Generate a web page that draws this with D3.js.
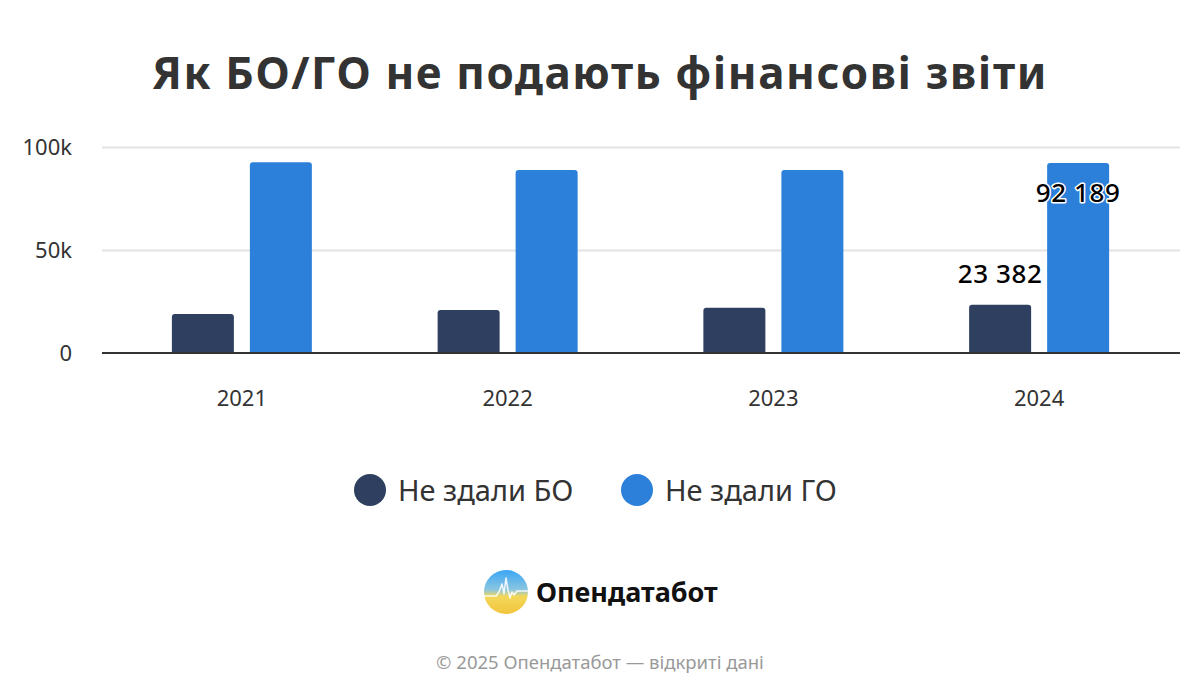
<!DOCTYPE html>
<html>
<head>
<meta charset="utf-8">
<script src="https://cdn.jsdelivr.net/npm/d3@7"></script>
<style>
  html, body { margin: 0; padding: 0; background: #fff; }
  svg { display: block; font-family: "Noto Sans", "Open Sans", sans-serif; }
</style>
</head>
<body>
<svg id="chart" width="1200" height="700"></svg>
<script>
// ---- data ----
const years = ["2021", "2022", "2023", "2024"];
const seriesNames = ["Не здали БО", "Не здали ГО"];
const seriesColors = ["#2e3f5f", "#2c80da"];
const notFiledBO = [18900, 20900, 22000, 23382];
const notFiledGO = [92600, 88800, 88800, 92189];
const yTicks = [0, 50000, 100000];
const yTickLabels = ["0", "50k", "100k"];
const labelledYear = "2024";
const titleText = "Як БО/ГО не подають фінансові звіти";
const brandText = "Опендатабот";
const footerText = "© 2025 Опендатабот — відкриті дані";

const svg = d3.select("#chart");

// title
svg.append("text")
  .attr("x", 600).attr("y", 89)
  .attr("text-anchor", "middle")
  .attr("font-size", 44).attr("font-weight", 700)
  .attr("letter-spacing", 1.6)
  .attr("fill", "#333")
  .text(titleText);

// scales
const y = d3.scaleLinear().domain([0, 100000]).range([353, 147]);
const x0 = d3.scaleBand().domain(years).range([109, 1172]).padding(0);
const groupW = 140;
const x1 = d3.scaleBand().domain(seriesNames).range([0, groupW]).paddingInner(16 / 78).paddingOuter(0);

// gridlines
svg.append("g").selectAll("line").data(yTicks.filter(t => t > 0)).join("line")
  .attr("x1", 102).attr("x2", 1180)
  .attr("y1", d => Math.round(y(d)) + 0.5).attr("y2", d => Math.round(y(d)) + 0.5)
  .attr("stroke", "#e3e3e3").attr("stroke-width", 2);

// y labels
svg.append("g").selectAll("text").data(yTicks).join("text")
  .attr("x", 72).attr("y", d => y(d))
  .attr("dy", "0.35em")
  .attr("text-anchor", "end")
  .attr("font-size", 22).attr("fill", "#333")
  .text((d, i) => yTickLabels[i]);

// data rows
const rows = [];
years.forEach((yr, i) => {
  rows.push({ year: yr, series: seriesNames[0], value: notFiledBO[i], color: seriesColors[0] });
  rows.push({ year: yr, series: seriesNames[1], value: notFiledGO[i], color: seriesColors[1] });
});

function barX(d) {
  return x0(d.year) + (x0.bandwidth() - groupW) / 2 + x1(d.series);
}
function roundedTop(x, yTop, w, yBot, r) {
  return `M${x},${yBot} L${x},${yTop + r} Q${x},${yTop} ${x + r},${yTop} L${x + w - r},${yTop} Q${x + w},${yTop} ${x + w},${yTop + r} L${x + w},${yBot} Z`;
}

svg.append("g").selectAll("path").data(rows).join("path")
  .attr("d", d => roundedTop(barX(d), y(d.value), x1.bandwidth(), y(0), 3))
  .attr("fill", d => d.color);

// baseline
svg.append("line")
  .attr("x1", 102).attr("x2", 1180)
  .attr("y1", y(0)).attr("y2", y(0))
  .attr("stroke", "#333").attr("stroke-width", 2);

// x labels
svg.append("g").selectAll("text").data(years).join("text")
  .attr("x", d => x0(d) + x0.bandwidth() / 2)
  .attr("y", 406)
  .attr("text-anchor", "middle")
  .attr("font-size", 22).attr("fill", "#333")
  .text(d => d);

// data labels for last year
const fmt = v => d3.format(",")(v).replace(/,/g, " ");
const labelRows = rows.filter(r => r.year === labelledYear);
svg.append("g").selectAll("text").data(labelRows).join("text")
  .attr("x", d => barX(d) + x1.bandwidth() / 2)
  .attr("y", d => {
    const top = y(d.value);
    return top - 22 < 190 ? top + 39 : top - 22;
  })
  .attr("text-anchor", "middle")
  .attr("font-size", 26).attr("font-weight", 500)
  .attr("letter-spacing", 0.6)
  .attr("fill", "#000")
  .attr("stroke", "#fff").attr("stroke-width", 3)
  .attr("paint-order", "stroke")
  .attr("stroke-linejoin", "round")
  .text(d => fmt(d.value));

// legend
const legend = svg.append("g");
const legendItems = [
  { name: seriesNames[0], color: seriesColors[0], cx: 370 },
  { name: seriesNames[1], color: seriesColors[1], cx: 637 }
];
legend.selectAll("circle").data(legendItems).join("circle")
  .attr("cx", d => d.cx).attr("cy", 490).attr("r", 16)
  .attr("fill", d => d.color);
legend.selectAll("text").data(legendItems).join("text")
  .attr("x", d => d.cx + 28).attr("y", 491)
  .attr("dy", "0.35em")
  .attr("font-size", 29).attr("fill", "#333")
  .text(d => d.name);

// brand logo
const defs = svg.append("defs");
const grad = defs.append("linearGradient").attr("id", "logoGrad")
  .attr("x1", 0).attr("y1", 0).attr("x2", 0).attr("y2", 1);
grad.append("stop").attr("offset", "0%").attr("stop-color", "#3aa6f5");
grad.append("stop").attr("offset", "45%").attr("stop-color", "#8cc6e0");
grad.append("stop").attr("offset", "60%").attr("stop-color", "#f3d75a");
grad.append("stop").attr("offset", "100%").attr("stop-color", "#f2c53d");
const logo = svg.append("g").attr("transform", "translate(506,592)");
logo.append("circle").attr("r", 22).attr("fill", "url(#logoGrad)");
logo.append("path")
  .attr("d", "M-22,4 L-10,4 L-7,0 L-4,-8 L-2,2 L0,-14 L2,-2 L4,6 L6,0 L8,3 L11,-1 L22,-1")
  .attr("fill", "none").attr("stroke", "#fff").attr("stroke-width", 1.6)
  .attr("stroke-linejoin", "round").attr("opacity", 0.85);
svg.append("text")
  .attr("x", 536).attr("y", 602)
  .attr("font-size", 27).attr("font-weight", 700).attr("fill", "#111")
  .text(brandText);

// footer
svg.append("text")
  .attr("x", 600).attr("y", 669)
  .attr("text-anchor", "middle")
  .attr("font-size", 18.5).attr("fill", "#999")
  .text(footerText);
</script>
</body>
</html>
